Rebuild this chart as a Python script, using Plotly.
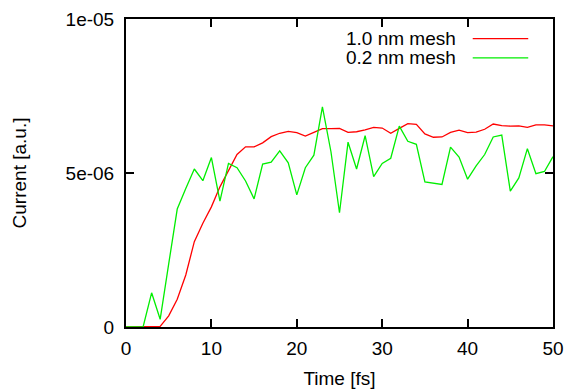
import plotly.graph_objects as go

time_fs = list(range(0, 51))

mesh_10nm = [0, 0, 0, 0, 0.02, 0.36, 0.90, 1.69, 2.77, 3.37,
             3.90, 4.55, 5.08, 5.60, 5.85, 5.85, 5.98, 6.18, 6.29, 6.35,
             6.31, 6.20, 6.32, 6.44, 6.44, 6.45, 6.32, 6.34, 6.40, 6.48,
             6.46, 6.29, 6.45, 6.60, 6.58, 6.27, 6.16, 6.17, 6.32, 6.39,
             6.31, 6.33, 6.42, 6.59, 6.54, 6.52, 6.53, 6.48, 6.56, 6.56,
             6.53]

mesh_02nm = [0, 0, 0, 1.11, 0.25, 2.05, 3.83, 4.50, 5.13, 4.75,
             5.50, 4.09, 5.31, 5.17, 4.74, 4.16, 5.29, 5.35, 5.72, 5.33,
             4.29, 5.17, 5.58, 7.15, 5.69, 3.71, 6.00, 5.13, 6.21, 4.88,
             5.31, 5.48, 6.52, 6.03, 5.93, 4.71, 4.67, 4.63, 5.84, 5.52,
             4.80, 5.23, 5.60, 6.17, 6.23, 4.41, 4.84, 5.79, 4.98, 5.05,
             5.53]

scale = 1e-6
series_names = ["1.0 nm mesh", "0.2 nm mesh"]
series_colors = ["#ff0000", "#00ee00"]

y_tickvals = [0, 5e-6, 1e-5]
y_ticktext = ["0", "5e-06", "1e-05"]
x_tickvals = [0, 10, 20, 30, 40, 50]

fig = go.Figure()
for name, vals, col in zip(series_names, [mesh_10nm, mesh_02nm], series_colors):
    fig.add_trace(go.Scatter(
        x=time_fs, y=[v * scale for v in vals], mode="lines", name=name,
        line=dict(color=col, width=1.3), showlegend=False))

font = dict(family="Liberation Sans, Arial, sans-serif", size=19, color="black")

# legend: text right-aligned, sample line to the right (gnuplot style)
for i, (name, col) in enumerate(zip(series_names, series_colors)):
    yp = 0.936 - i * 0.062
    fig.add_annotation(xref="paper", yref="paper", x=0.778, y=yp, text=name,
                       showarrow=False, xanchor="right", yanchor="middle",
                       font=font)
    fig.add_shape(type="line", xref="paper", yref="paper",
                  x0=0.812, x1=0.942, y0=yp, y1=yp,
                  line=dict(color=col, width=1.3))

axis_common = dict(showline=True, linecolor="black", linewidth=2, mirror="allticks",
                   ticks="inside", ticklen=8, tickwidth=2, tickcolor="black",
                   showgrid=False, zeroline=False, tickfont=font)

fig.update_xaxes(range=[0, 50], tickvals=x_tickvals,
                 title=dict(text="Time [fs]", font=font, standoff=14),
                 ticklabelstandoff=3,
                 **axis_common)
fig.update_yaxes(range=[0, 1e-5], tickvals=y_tickvals, ticktext=y_ticktext,
                 title=dict(text="Current [a.u.]", font=font, standoff=34),
                 ticklabelstandoff=6,
                 **axis_common)

fig.update_layout(width=568, height=390, plot_bgcolor="white", paper_bgcolor="white",
                  margin=dict(l=126, r=15, t=19, b=63, autoexpand=False),
                  font=font)

fig.write_html(
    "out.html",
    config={"displayModeBar": False},
    post_script="document.body.style.margin='0';document.body.style.overflow='hidden';",
)
